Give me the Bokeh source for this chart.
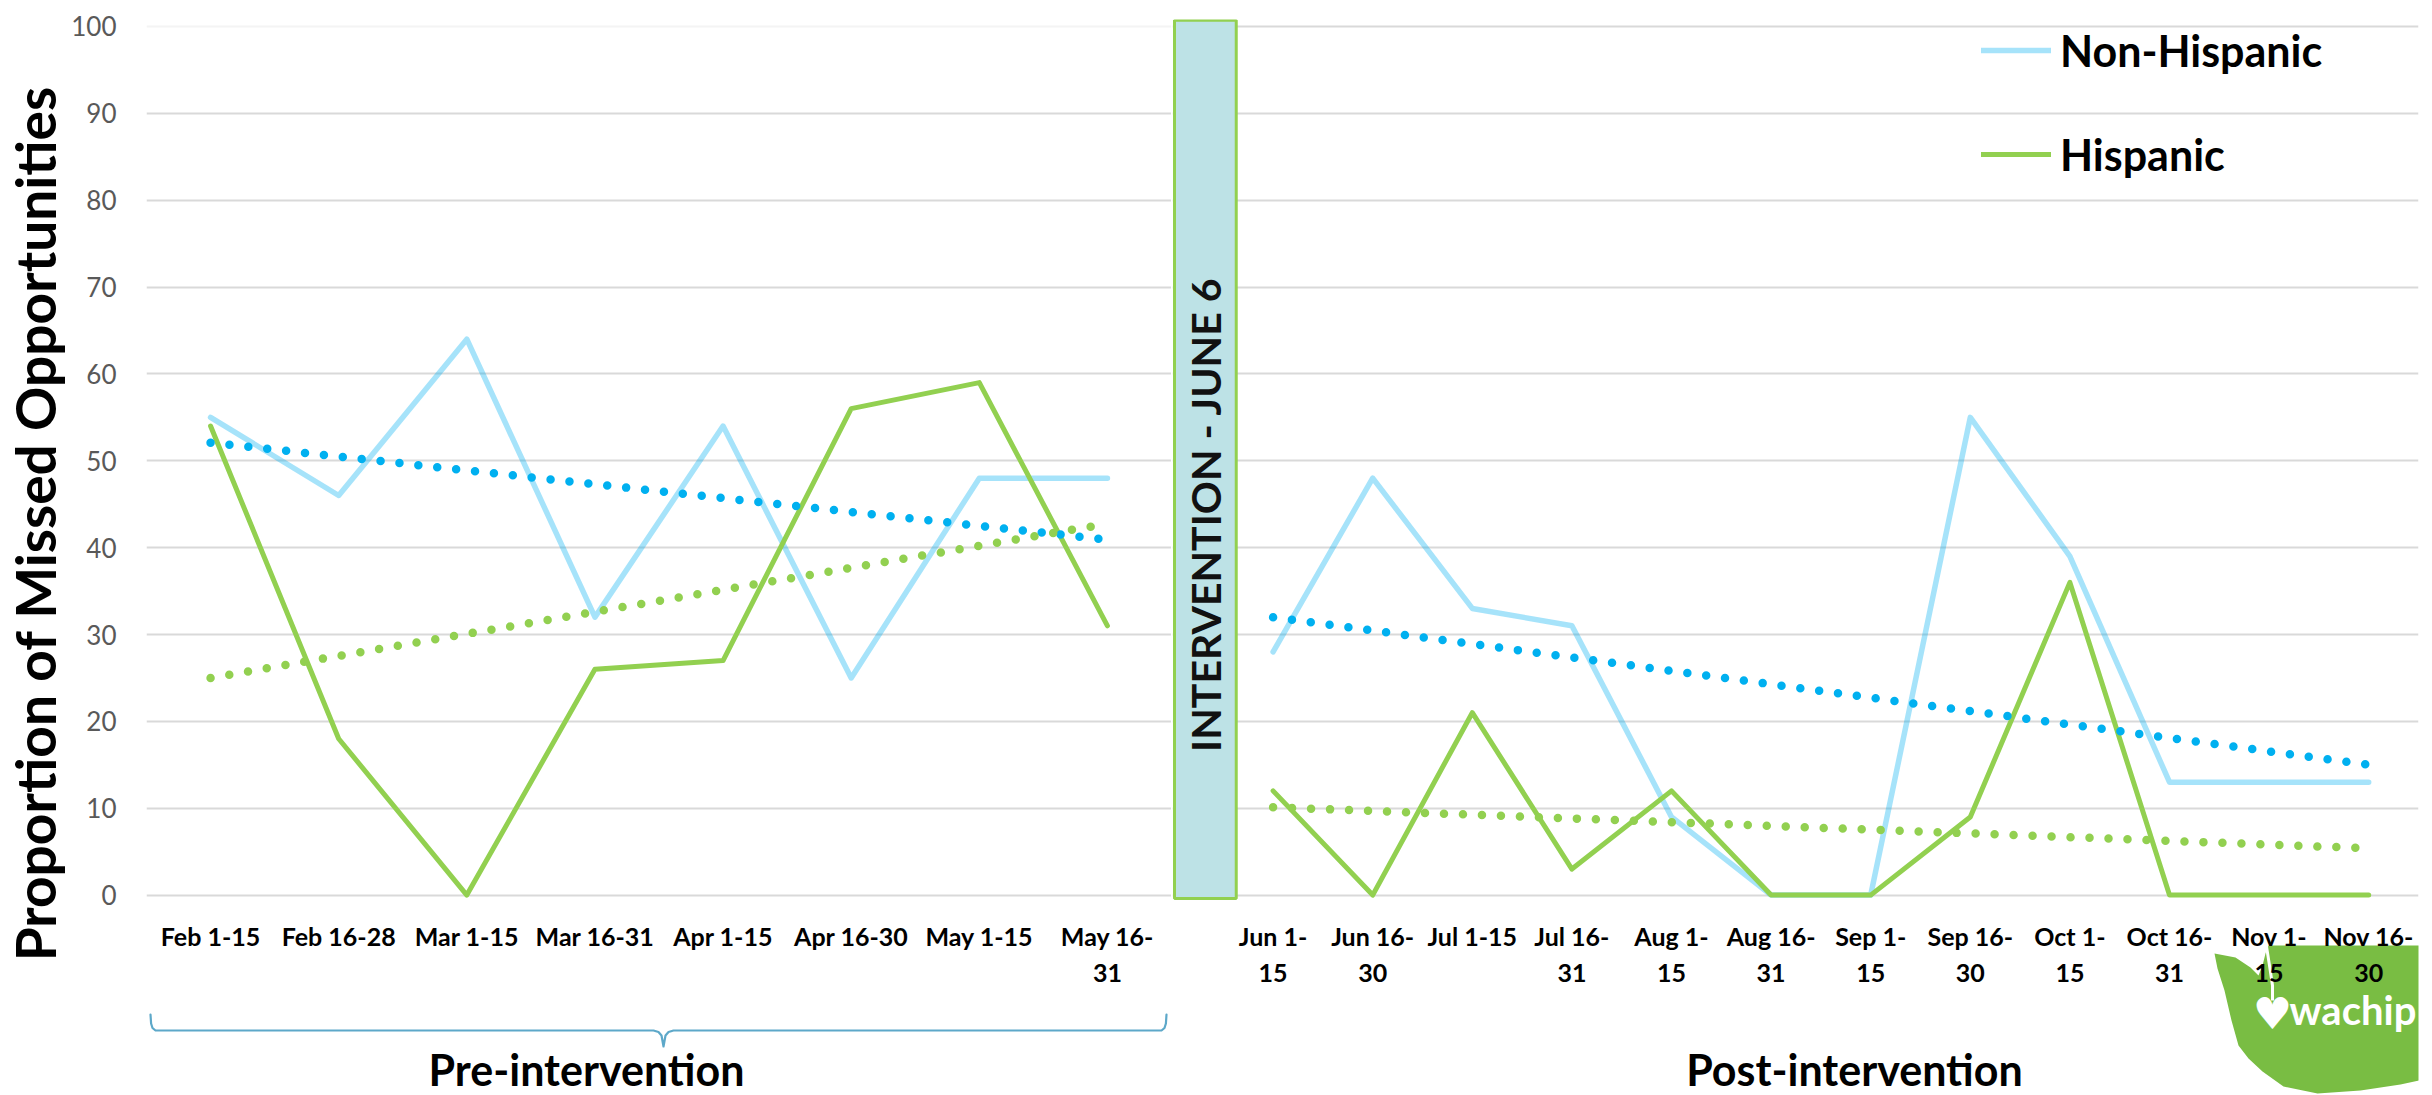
import numpy as np
from bokeh.core.properties import value
from bokeh.embed import file_html
from bokeh.layouts import row
from bokeh.models import (FactorRange, FixedTicker, Label, Legend, LegendItem,
                          PolyAnnotation, Range1d, Span)
from bokeh.plotting import figure
from bokeh.resources import INLINE

# ---- data -------------------------------------------------------------
pre_periods = ["Feb 1-15", "Feb 16-28", "Mar 1-15", "Mar 16-31",
               "Apr 1-15", "Apr 16-30", "May 1-15", "May 16-\n31"]
pre_non_hispanic = [55, 46, 64, 32, 54, 25, 48, 48]
pre_hispanic = [54, 18, 0, 26, 27, 56, 59, 31]

post_periods = ["Jun 1-\n15", "Jun 16-\n30", "Jul 1-15", "Jul 16-\n31",
                "Aug 1-\n15", "Aug 16-\n31", "Sep 1-\n15", "Sep 16-\n30",
                "Oct 1-\n15", "Oct 16-\n31", "Nov 1-\n15", "Nov 16-\n30"]
post_non_hispanic = [28, 48, 33, 31, 9, 0, 0, 55, 39, 13, 13, 13]
post_hispanic = [12, 0, 21, 3, 12, 0, 0, 9, 36, 0, 0, 0]

y_ticks = list(range(0, 101, 10))
series_names = ["Non-Hispanic", "Hispanic"]
phase_labels = ["Pre-intervention", "Post-intervention"]
intervention_text = "INTERVENTION - JUNE 6"
y_title = "Proportion of Missed Opportunities"

# ---- style ------------------------------------------------------------
NH_COLOR = "#00B0F0"
H_COLOR = "#92D050"
GRID = "#D9D9D9"
BRACE_COLOR = "#5DA8C9"
FONT = "Lato"

# page geometry in pixels
PAGE_W, PAGE_H = 2432, 1095
TITLE_W = 68                       # strip holding the vertical axis title
PRE_FRAME_LEFT = 145
PRE_FRAME_RIGHT = 1171
POST_FRAME_LEFT = PRE_FRAME_RIGHT + 1
POST_FRAME_RIGHT = 2418
FRAME_TOP = 19
FRAME_BOTTOM = PAGE_H              # frames run to the page bottom; x axes sit at y = 0

# value axis: 0 -> 894.6 px, 100 -> 26 px
y_range = Range1d(-23.07, 100.8)


def trend(values):
    """Least-squares linear trend evaluated at each period."""
    x = np.arange(len(values))
    slope, intercept = np.polyfit(x, values, 1)
    return (intercept + slope * x).tolist()


def to_frame(points, frame_left):
    """Page pixel points -> frame-relative screen coordinates (y up)."""
    xs = [px - frame_left for px, _ in points]
    ys = [FRAME_BOTTOM - py for _, py in points]
    return xs, ys


def style(fig):
    fig.outline_line_color = None
    fig.background_fill_color = "white"
    fig.border_fill_color = "white"
    fig.xgrid.visible = False
    fig.ygrid.grid_line_color = GRID
    fig.ygrid.grid_line_width = 2
    ax = fig.xaxis[0]
    ax.fixed_location = 0
    ax.axis_line_color = None
    ax.major_tick_line_color = None
    ax.minor_tick_line_color = None
    ax.major_tick_out = 0
    ax.major_tick_in = 0
    ax.major_label_standoff = 26
    ax.major_label_text_font = FONT
    ax.major_label_text_font_style = "bold"
    ax.major_label_text_font_size = "25px"
    ax.major_label_text_color = "black"


def draw_series(fig, x, nh, h):
    nh_r = fig.line(x, nh, line_color=NH_COLOR, line_alpha=0.35, line_width=5.5,
                    line_join="round", line_cap="round")
    h_r = fig.line(x, h, line_color=H_COLOR, line_width=5,
                   line_join="round", line_cap="round")
    fig.line(x, trend(nh), line_color=NH_COLOR, line_width=8.5,
             line_dash="0 19", line_cap="round")
    fig.line(x, trend(h), line_color=H_COLOR, line_width=8.5,
             line_dash="0 19", line_cap="round")
    return nh_r, h_r


def add_label(fig, frame_left, px, py, text, size, align="center", color="black",
              font=FONT, style_="bold", level="annotation"):
    """Text centred vertically on page pixel row py."""
    lx, ly = to_frame([(px, py)], frame_left)
    fig.add_layout(Label(x=lx[0], y=ly[0], x_units="screen", y_units="screen",
                         text=text, text_align=align, text_baseline="middle",
                         text_font=font, text_font_style=style_,
                         text_font_size=size, text_color=color, level=level))


common = dict(height=PAGE_H, y_range=y_range, output_backend="svg",
              toolbar_location=None, min_border_top=FRAME_TOP, min_border_bottom=0)

# ---- vertical axis title ----------------------------------------------
title_fig = figure(width=TITLE_W, height=PAGE_H, x_range=Range1d(0, TITLE_W),
                   y_range=Range1d(PAGE_H, 0), x_axis_location=None,
                   y_axis_location=None, min_border=0, output_backend="svg",
                   toolbar_location=None)
title_fig.outline_line_color = None
title_fig.grid.visible = False
title_fig.text(x=[34], y=[513], text=[y_title], angle=np.pi / 2,
               text_align="center", text_baseline="middle",
               text_font=value(FONT), text_font_style="bold",
               text_font_size="55px", text_color="black")

# ---- pre-intervention panel -------------------------------------------
pre_fig = figure(width=PRE_FRAME_RIGHT - TITLE_W, x_range=FactorRange(factors=pre_periods),
                 min_border_left=PRE_FRAME_LEFT - TITLE_W, min_border_right=0, **common)
style(pre_fig)
pre_fig.ygrid.ticker = FixedTicker(ticks=y_ticks[:-1])
pre_fig.add_layout(Span(location=y_ticks[-1], dimension="width",
                        line_color="#F4F4F4", line_width=2))
ay = pre_fig.yaxis[0]
ay.ticker = FixedTicker(ticks=y_ticks)
ay.axis_line_color = None
ay.major_tick_line_color = None
ay.minor_tick_line_color = None
ay.major_tick_out = 0
ay.major_tick_in = 0
ay.major_label_standoff = 30
ay.major_label_text_font = FONT
ay.major_label_text_font_size = "26px"
ay.major_label_text_color = "#595959"

draw_series(pre_fig, pre_periods, pre_non_hispanic, pre_hispanic)

# curly brace under the pre-intervention periods
brace = [(149, 1014), (149.6, 1023), (151, 1027.5), (154, 1030), (652, 1030),
         (657, 1031.5), (660, 1035), (662, 1046), (664, 1035), (667, 1031.5),
         (672, 1030), (1160, 1030), (1163, 1027.5), (1164.4, 1023), (1165, 1014)]
bx, by = to_frame(brace + brace[::-1], PRE_FRAME_LEFT)
pre_fig.add_layout(PolyAnnotation(xs=bx, ys=by, xs_units="screen", ys_units="screen",
                                  fill_color=None, line_color=BRACE_COLOR,
                                  line_alpha=1, line_width=2.2, line_join="round"))
add_label(pre_fig, PRE_FRAME_LEFT, 585, 1069, phase_labels[0], "43px")

# ---- post-intervention panel ------------------------------------------
post_x = list(range(len(post_periods)))
post_fig = figure(width=PAGE_W - PRE_FRAME_RIGHT,
                  x_range=Range1d(-1.01, len(post_periods) - 0.5),
                  y_axis_location=None, min_border_left=1,
                  min_border_right=PAGE_W - POST_FRAME_RIGHT, **common)
style(post_fig)
post_fig.ygrid.ticker = FixedTicker(ticks=y_ticks)
post_fig.xaxis.ticker = FixedTicker(ticks=post_x)
post_fig.xaxis.major_label_overrides = {i: lab for i, lab in enumerate(post_periods)}

# wachip badge in the lower right corner (under the tick labels)
state = [(2214, 953), (2235, 957), (2250, 967), (2258, 975), (2262, 965),
         (2265, 953), (2268, 945), (2432, 945), (2432, 1077), (2400, 1084),
         (2360, 1090), (2317, 1093), (2283, 1086), (2262, 1071), (2248, 1058),
         (2238, 1045), (2231, 1020), (2224, 990), (2217, 968)]
sx, sy = to_frame(state, POST_FRAME_LEFT)
post_fig.add_layout(PolyAnnotation(xs=sx, ys=sy, xs_units="screen", ys_units="screen",
                                   fill_color="#79BD43", fill_alpha=1,
                                   line_color=None, level="underlay"))
drip = [(2266, 946), (2269, 965), (2272, 985), (2272, 1000)]
dx, dy = to_frame(drip + drip[::-1], POST_FRAME_LEFT)
post_fig.add_layout(PolyAnnotation(xs=dx, ys=dy, xs_units="screen", ys_units="screen",
                                   fill_color=None, line_color="white", line_alpha=1,
                                   line_width=3, level="underlay"))
add_label(post_fig, POST_FRAME_LEFT, 2272, 1013, "\u2665", "44px", color="white",
          font="DejaVu Sans", style_="normal", level="underlay")
add_label(post_fig, POST_FRAME_LEFT, 2289, 1009, "wachip", "40px", align="left",
          color="white", level="underlay")

# intervention marker in the gap ahead of the first post period
marker_left, marker_right = -0.99, -0.37
post_fig.quad(left=[marker_left], right=[marker_right], bottom=[-0.4], top=[100.7],
              fill_color="#BDE2E6", line_color=H_COLOR, line_width=3)

nh_line, h_line = draw_series(post_fig, post_x, post_non_hispanic, post_hispanic)

post_fig.text(x=[(marker_left + marker_right) / 2], y=[43.8], text=[intervention_text],
              angle=np.pi / 2, text_align="center", text_baseline="middle",
              text_font=value(FONT), text_font_style="bold",
              text_font_size="41px", text_color="#111111")

legend = Legend(items=[LegendItem(label=series_names[0], renderers=[nh_line]),
                       LegendItem(label=series_names[1], renderers=[h_line])],
                location=(1981 - POST_FRAME_LEFT, PAGE_H - 23 - 158),
                orientation="vertical",
                label_text_font=FONT, label_text_font_style="bold",
                label_text_font_size="43px", label_text_color="black",
                glyph_width=70, glyph_height=54, label_height=54,
                label_standoff=9, spacing=50, padding=0, margin=0,
                border_line_color=None, background_fill_alpha=0)
post_fig.add_layout(legend)

add_label(post_fig, POST_FRAME_LEFT, 1854, 1069, phase_labels[1], "43px")

p = row(title_fig, pre_fig, post_fig)
open("out.html", "w").write(file_html(p, INLINE))
